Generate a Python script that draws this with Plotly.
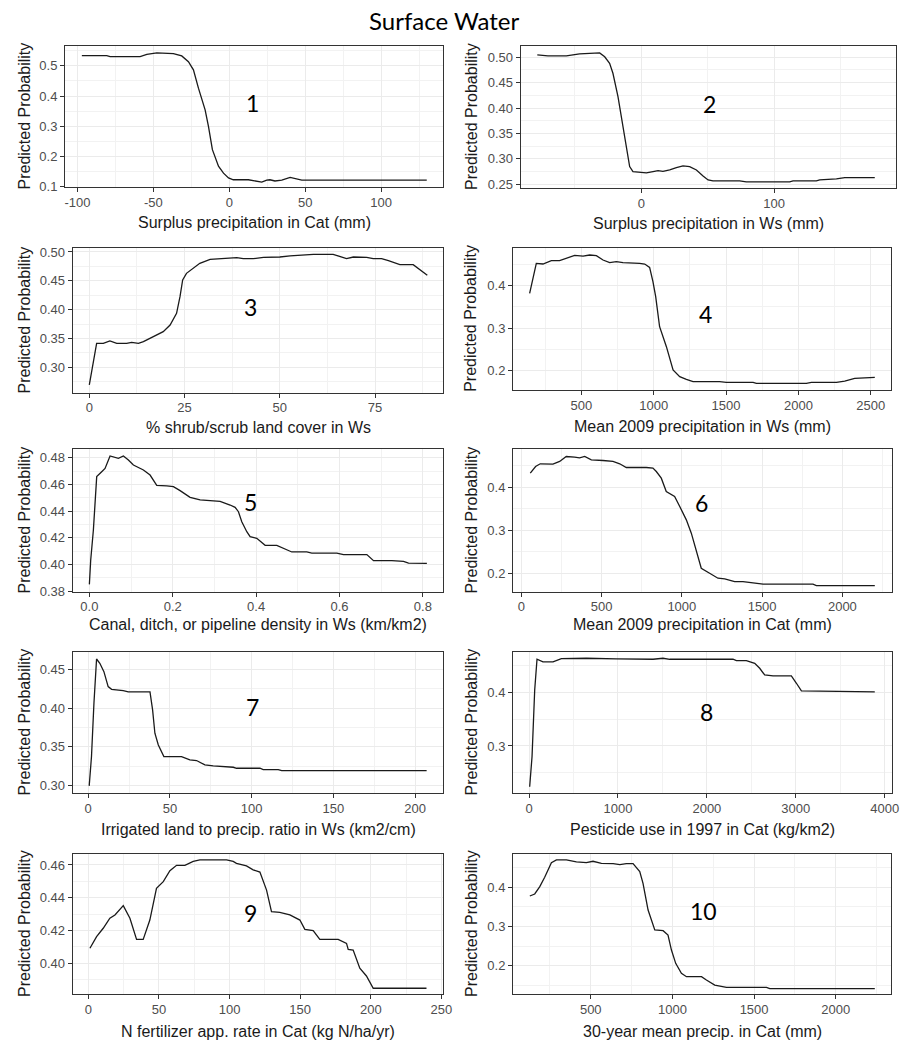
import plotly.graph_objects as go

# ---------------- DATA ----------------
p1_x = [-97.1, -80.7, -78.5, -58.7, -54.3, -47.7, -36.8, -31.3, -26.9, -23.6, -20.3, -15.9, -13.7, -11.1, -7.1, -3.8, -0.5, 2.7, 12.6, 15.9, 21.4, 24.7, 26.8, 30.1, 34.6, 40.1, 44.5, 47.8, 130.1]
p1_y = [0.534, 0.534, 0.531, 0.531, 0.538, 0.543, 0.541, 0.533, 0.514, 0.487, 0.426, 0.354, 0.299, 0.222, 0.167, 0.144, 0.128, 0.122, 0.122, 0.119, 0.114, 0.121, 0.122, 0.118, 0.121, 0.130, 0.124, 0.121, 0.121]

p2_x = [-78.4, -70.4, -56.5, -46.5, -31.4, -27.6, -23.9, -21.4, -17.6, -13.8, -11.3, -8.8, -6.3, -1.3, 3.8, 8.8, 12.6, 16.3, 21.4, 26.4, 31.4, 36.4, 41.5, 46.5, 50.3, 54.0, 74.1, 79.1, 111.8, 114.3, 131.9, 134.4, 147.0, 153.3, 175.9]
p2_y = [0.5046, 0.5026, 0.5026, 0.5066, 0.5085, 0.501, 0.488, 0.4685, 0.4226, 0.3635, 0.3176, 0.2848, 0.275, 0.273, 0.2723, 0.275, 0.2769, 0.2756, 0.2782, 0.2828, 0.2861, 0.2848, 0.2782, 0.2664, 0.2585, 0.2566, 0.2566, 0.2546, 0.2546, 0.2566, 0.2566, 0.2585, 0.2605, 0.2631, 0.2631]

p3_x = [0, 1.05, 1.92, 3.67, 5.4, 7.2, 9.8, 11.1, 12.9, 14.2, 15.9, 17.7, 19.4, 21.2, 22.9, 23.8, 24.5, 25.5, 26.9, 29.0, 31.7, 36.0, 38.7, 40.4, 43.0, 45.7, 50.0, 52.7, 58.8, 64.0, 65.8, 67.5, 69.3, 72.8, 74.5, 76.7, 78.5, 81.5, 85.0, 86.8, 88.7]
p3_y = [0.2694, 0.3069, 0.3416, 0.3416, 0.3457, 0.3416, 0.3416, 0.3434, 0.3416, 0.3445, 0.3503, 0.3561, 0.3618, 0.3734, 0.3936, 0.4225, 0.4514, 0.463, 0.4699, 0.4803, 0.4873, 0.489, 0.4902, 0.4884, 0.4884, 0.4908, 0.4913, 0.4931, 0.496, 0.496, 0.4919, 0.4884, 0.4913, 0.4908, 0.4884, 0.4884, 0.485, 0.478, 0.478, 0.4688, 0.4595]

p4_x = [143, 189, 235, 293, 350, 408, 454, 512, 558, 604, 650, 696, 742, 788, 857, 903, 938, 972, 995, 1014, 1041, 1088, 1134, 1180, 1226, 1272, 1456, 1502, 1687, 1710, 2055, 2090, 2263, 2320, 2389, 2470, 2528]
p4_y = [0.382, 0.4525, 0.451, 0.4588, 0.4588, 0.4667, 0.4714, 0.4698, 0.4722, 0.4706, 0.4604, 0.4541, 0.4565, 0.4541, 0.4541, 0.4525, 0.451, 0.4431, 0.4094, 0.3741, 0.3035, 0.2565, 0.2016, 0.1859, 0.1796, 0.1741, 0.1741, 0.1725, 0.1725, 0.1702, 0.1702, 0.1725, 0.1725, 0.1757, 0.182, 0.1835, 0.1843]

p5_x = [0.0, 0.0032, 0.0096, 0.0176, 0.0296, 0.0376, 0.0496, 0.0616, 0.0696, 0.0816, 0.0936, 0.1056, 0.1296, 0.1456, 0.1616, 0.1856, 0.2016, 0.2176, 0.2416, 0.2656, 0.2976, 0.3136, 0.3376, 0.3496, 0.3576, 0.3656, 0.3776, 0.3856, 0.4016, 0.4216, 0.4496, 0.4656, 0.4856, 0.5216, 0.5336, 0.5936, 0.6096, 0.6656, 0.6816, 0.7256, 0.7536, 0.7656, 0.8096]
p5_y = [0.385, 0.4033, 0.4258, 0.4658, 0.4695, 0.472, 0.4813, 0.48, 0.4795, 0.4813, 0.4783, 0.4745, 0.4708, 0.467, 0.4593, 0.4588, 0.4583, 0.4553, 0.4503, 0.4483, 0.4475, 0.4473, 0.4445, 0.4428, 0.4395, 0.432, 0.4245, 0.4208, 0.4195, 0.4143, 0.4143, 0.412, 0.4093, 0.4093, 0.4085, 0.4085, 0.4073, 0.4073, 0.4028, 0.4028, 0.4023, 0.401, 0.4008]

p6_x = [56, 89, 118, 197, 239, 280, 332, 363, 395, 436, 509, 571, 613, 654, 779, 820, 841, 872, 903, 955, 987, 1028, 1059, 1090, 1121, 1173, 1225, 1267, 1329, 1381, 1443, 1506, 1817, 1838, 2202]
p6_y = [0.4326, 0.448, 0.4543, 0.4535, 0.4597, 0.4713, 0.4698, 0.4682, 0.4713, 0.4636, 0.462, 0.4597, 0.4543, 0.4457, 0.4457, 0.4442, 0.4364, 0.4209, 0.39, 0.3783, 0.355, 0.324, 0.293, 0.2543, 0.2116, 0.2, 0.1884, 0.1868, 0.1806, 0.1806, 0.1767, 0.1744, 0.1744, 0.1713, 0.1713]

p7_x = [0.6, 2.0, 3.5, 5.1, 7.1, 9.6, 12.2, 14.3, 21.4, 24.5, 37.8, 39.4, 40.8, 42.9, 46.3, 57.1, 62.2, 66.3, 71.4, 76.5, 88.8, 90.8, 105.1, 107.1, 116.3, 118.4, 207.1]
p7_y = [0.2996, 0.3374, 0.4062, 0.4633, 0.4577, 0.447, 0.4277, 0.4242, 0.4225, 0.4208, 0.4208, 0.3976, 0.3675, 0.3524, 0.3374, 0.3374, 0.3331, 0.3323, 0.3266, 0.3254, 0.3236, 0.3223, 0.3223, 0.3206, 0.3206, 0.3193, 0.3193]

p8_x = [7.5, 34, 64, 90, 157, 270, 364, 645, 982, 1395, 1507, 1582, 2294, 2332, 2444, 2538, 2594, 2650, 2744, 2950, 3007, 3063, 3888]
p8_y = [0.2242, 0.2801, 0.4043, 0.4615, 0.4565, 0.4565, 0.4627, 0.4634, 0.4621, 0.4615, 0.4634, 0.4615, 0.4615, 0.459, 0.459, 0.454, 0.4447, 0.4323, 0.4304, 0.4304, 0.4168, 0.4025, 0.4006]

p9_x = [1.2, 5.9, 10.6, 15.3, 18.9, 24.8, 29.5, 34.2, 38.9, 43.6, 48.3, 53.1, 57.8, 62.5, 68.4, 74.3, 79.0, 97.9, 102.6, 104.9, 112.0, 116.7, 121.5, 126.2, 129.7, 135.6, 142.7, 149.8, 153.3, 159.2, 163.9, 176.9, 182.8, 184.0, 187.5, 192.2, 196.9, 201.7, 239.4]
p9_y = [0.4092, 0.4163, 0.4214, 0.4275, 0.4295, 0.4352, 0.4275, 0.4146, 0.4146, 0.4264, 0.4458, 0.4498, 0.4565, 0.4598, 0.4598, 0.4622, 0.4631, 0.4631, 0.4622, 0.461, 0.4594, 0.457, 0.4557, 0.4447, 0.4315, 0.4311, 0.4295, 0.4264, 0.4207, 0.4199, 0.4146, 0.4146, 0.4122, 0.4085, 0.4081, 0.397, 0.3923, 0.3848, 0.3848]

p10_x = [127, 157, 188, 218, 259, 290, 351, 412, 473, 514, 565, 637, 678, 718, 759, 800, 820, 851, 892, 943, 973, 994, 1020, 1055, 1086, 1178, 1208, 1259, 1331, 1576, 1596, 2239]
p10_y = [0.3779, 0.383, 0.4017, 0.4255, 0.463, 0.4698, 0.4698, 0.4647, 0.463, 0.4664, 0.4613, 0.4604, 0.4579, 0.4604, 0.4604, 0.44, 0.4102, 0.3421, 0.2911, 0.2894, 0.2783, 0.24, 0.206, 0.1804, 0.1719, 0.1719, 0.1634, 0.1506, 0.1447, 0.1447, 0.1413, 0.1413]

x_titles = [
    "Surplus precipitation in Cat (mm)",
    "Surplus precipitation in Ws (mm)",
    "% shrub/scrub land cover in Ws",
    "Mean 2009 precipitation in Ws (mm)",
    "Canal, ditch, or pipeline density in Ws (km/km2)",
    "Mean 2009 precipitation in Cat (mm)",
    "Irrigated land to precip. ratio in Ws (km2/cm)",
    "Pesticide use in 1997 in Cat (kg/km2)",
    "N fertilizer app. rate in Cat (kg N/ha/yr)",
    "30-year mean precip. in Cat (mm)",
]
panel_labels = ["1", "2", "3", "4", "5", "6", "7", "8", "9", "10"]
y_title = "Predicted Probability"
main_title = "Surface Water"
p1_xtick_vals = [-100, -50, 0, 50, 100]
p1_xtick_text = ["-100", "-50", "0", "50", "100"]

series = [(p1_x, p1_y), (p2_x, p2_y), (p3_x, p3_y), (p4_x, p4_y), (p5_x, p5_y),
          (p6_x, p6_y), (p7_x, p7_y), (p8_x, p8_y), (p9_x, p9_y), (p10_x, p10_y)]

# ---------------- LAYOUT (pixel geometry / axis settings) ----------------
W, H = 908, 1050
# plot-area boxes: left, right, top, bottom (px)
boxes = [
    (65, 443, 46, 187), (520.7, 896, 46, 188),
    (72.7, 443.3, 248.3, 392.7), (513, 891.3, 247.7, 390),
    (72.7, 443.3, 449.3, 591.7), (513, 892.3, 449.3, 591.7),
    (72.7, 443.3, 651.7, 793.3), (513, 892.3, 651.7, 793.3),
    (72.7, 443.3, 854, 994), (513, 891.3, 854, 994),
]
x_ranges = [(-108.2, 140.8), (-90.9, 191.9), (-4.36, 92.9), (28, 2642), (-0.04, 0.849),
            (-51.7, 2311), (-9.5, 217.3), (-180, 4085), (-11, 251.3), (24, 2340)]
y_ranges = [(0.098, 0.566), (0.2427, 0.5222), (0.256, 0.5064), (0.1546, 0.4894), (0.3795, 0.4863),
            (0.157, 0.488), (0.290, 0.4727), (0.2119, 0.4756), (0.3813, 0.4667), (0.1278, 0.485)]
x_dticks = [50, 100, 25, 500, 0.2, 500, 50, 1000, 50, 500]
y_dticks = [0.1, 0.05, 0.05, 0.1, 0.02, 0.1, 0.05, 0.1, 0.02, 0.1]
x_fmt = ["d", "d", "d", "d", ".1f", "d", "d", "d", "d", "d"]
y_fmt = [".1f", ".2f", ".2f", ".1f", ".2f", ".1f", ".2f", ".1f", ".2f", ".1f"]
x_title_y = [223, 223.3, 428, 426, 624, 624, 829.3, 829.3, 1031.7, 1031.7]
label_pos = [(252, 103), (709, 104), (251, 307), (705, 314), (251, 502),
             (701, 503), (252, 707), (706, 712), (251, 913), (703, 911)]

TICK_FONT = dict(family="Liberation Sans, Arial, sans-serif", size=13, color="#4D4D4D")
TITLE_FONT = dict(family="Liberation Sans, Arial, sans-serif", size=16, color="#1A1A1A")
NUM_FONT = dict(family="Lato, Open Sans, sans-serif", size=23, color="#000000")

fig = go.Figure()
layout = dict(
    width=W, height=H, autosize=False,
    margin=dict(l=0, r=0, t=0, b=0, pad=0),
    paper_bgcolor="white", plot_bgcolor="white",
    showlegend=False,
)
annotations = []

def ann(text, px, py, font, angle=0):
    return dict(text=text, x=px / W, y=1 - py / H, xref="paper", yref="paper",
                xanchor="center", yanchor="middle", showarrow=False, font=font,
                textangle=angle)

for i, (xs, ys) in enumerate(series):
    n = i + 1
    suf = "" if n == 1 else str(n)
    l, r, t, b = boxes[i]
    fig.add_trace(go.Scatter(x=xs, y=ys, mode="lines",
                             line=dict(color="#1A1A1A", width=1.3),
                             xaxis="x" + suf, yaxis="y" + suf,
                             hoverinfo="skip"))
    common = dict(
        showgrid=True, gridcolor="#EBEBEB", gridwidth=1.3,
        showline=True, mirror=True, linecolor="#333333", linewidth=1,
        ticks="outside", ticklen=4, tickcolor="#333333", tickwidth=1,
        tickfont=TICK_FONT, zeroline=False, tick0=0, automargin=False,
    )
    xa = dict(
        common, domain=[l / W, r / W], anchor="y" + suf,
        range=list(x_ranges[i]), dtick=x_dticks[i], tickformat=x_fmt[i],
        ticklabelstandoff=-1,
        minor=dict(tickmode="linear", tick0=0, dtick=x_dticks[i] / 2, showgrid=True,
                   gridcolor="#F2F2F2", gridwidth=0.9),
    )
    if n == 1:
        xa.update(tickmode="array", tickvals=p1_xtick_vals, ticktext=p1_xtick_text)
        xa.pop("dtick")
    layout["xaxis" + suf] = xa
    layout["yaxis" + suf] = dict(
        common, domain=[1 - b / H, 1 - t / H], anchor="x" + suf,
        range=list(y_ranges[i]), dtick=y_dticks[i], tickformat=y_fmt[i],
        minor=dict(tickmode="linear", tick0=0, dtick=y_dticks[i] / 2, showgrid=True,
                   gridcolor="#F2F2F2", gridwidth=0.9),
    )
    # axis titles
    annotations.append(ann(x_titles[i], (l + r) / 2, x_title_y[i], TITLE_FONT))
    ytx = 24 if i % 2 == 0 else 471
    annotations.append(ann(y_title, ytx, (t + b) / 2, TITLE_FONT, angle=-90))
    # panel number
    annotations.append(ann(panel_labels[i], label_pos[i][0], label_pos[i][1], NUM_FONT))

annotations.append(ann(main_title, 444, 20, dict(family="Lato, Open Sans, sans-serif", size=24, color="#000000")))
layout["annotations"] = annotations
fig.update_layout(**layout)
fig.write_html(
    "out.html",
    config={"displayModeBar": False},
    post_script="document.body.style.margin='0';document.body.style.overflow='hidden';",
)
